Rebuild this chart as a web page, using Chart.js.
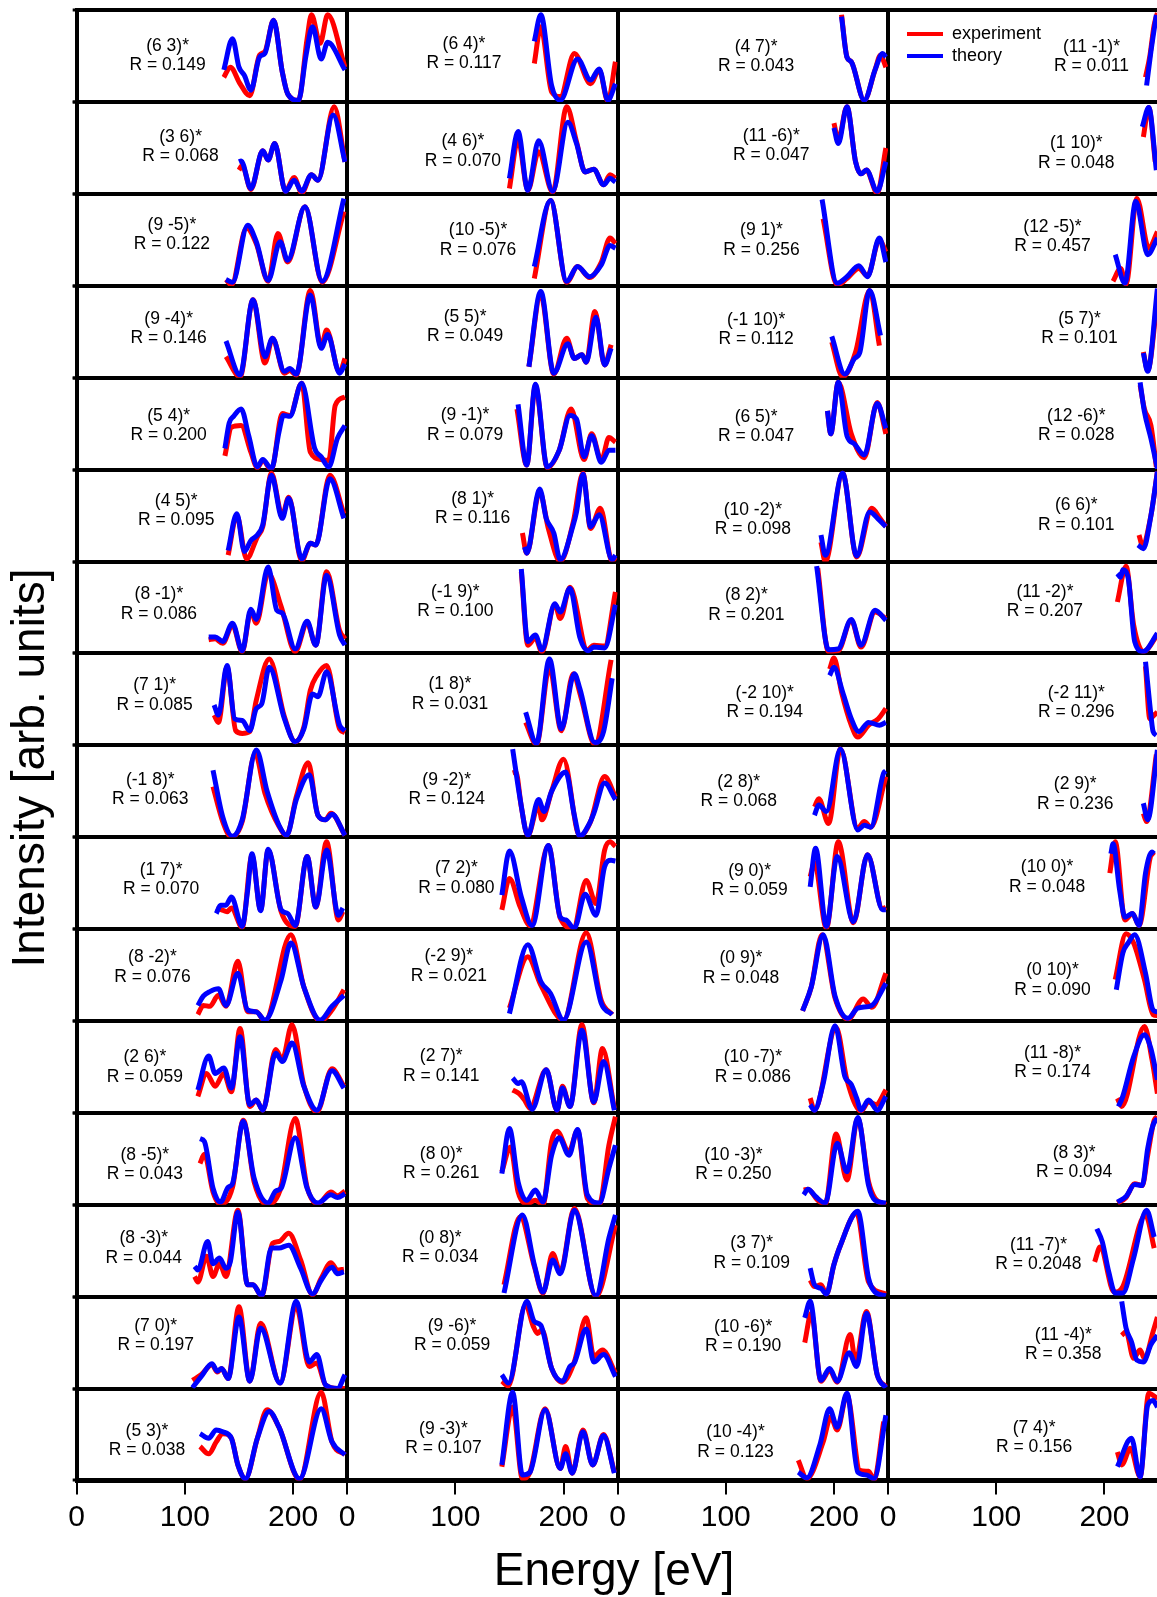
<!DOCTYPE html>
<html>
<head>
<meta charset="utf-8">
<script src="https://cdn.jsdelivr.net/npm/chart.js@4.4.1/dist/chart.umd.min.js"></script>
<style>
    html, body { margin: 0; padding: 0; background: #fff; overflow: hidden; }
    #wrap { width: 1161px; height: 1597px; }
</style>
</head>
<body>
<div id="wrap"><canvas id="chart" width="1161" height="1597"></canvas></div>
<script>
// 軸の設定
const energyTicks = [0, 100, 200];
const energyRange = [0, 250];
const nRows = 16;
const nCols = 4;

// ビーム名 (行ごと、左から右)
const beamNames = [
    '6 3', '6 4', '4 7', '11 -1',
    '3 6', '4 6', '11 -6', '1 10',
    '9 -5', '10 -5', '9 1', '12 -5',
    '9 -4', '5 5', '-1 10', '5 7',
    '5 4', '9 -1', '6 5', '12 -6',
    '4 5', '8 1', '10 -2', '6 6',
    '8 -1', '-1 9', '8 2', '11 -2',
    '7 1', '1 8', '-2 10', '-2 11',
    '-1 8', '9 -2', '2 8', '2 9',
    '1 7', '7 2', '9 0', '10 0',
    '8 -2', '-2 9', '0 9', '0 10',
    '2 6', '2 7', '10 -7', '11 -8',
    '8 -5', '8 0', '10 -3', '8 3',
    '8 -3', '0 8', '3 7', '11 -7',
    '7 0', '9 -6', '10 -6', '11 -4',
    '5 3', '9 -3', '10 -4', '7 4'
];

// Rファクター
const rFactors = [
    '0.149', '0.117', '0.043', '0.011',
    '0.068', '0.070', '0.047', '0.048',
    '0.122', '0.076', '0.256', '0.457',
    '0.146', '0.049', '0.112', '0.101',
    '0.200', '0.079', '0.047', '0.028',
    '0.095', '0.116', '0.098', '0.101',
    '0.086', '0.100', '0.201', '0.207',
    '0.085', '0.031', '0.194', '0.296',
    '0.063', '0.124', '0.068', '0.236',
    '0.070', '0.080', '0.059', '0.048',
    '0.076', '0.021', '0.048', '0.090',
    '0.059', '0.141', '0.086', '0.174',
    '0.043', '0.261', '0.250', '0.094',
    '0.044', '0.034', '0.109', '0.2048',
    '0.197', '0.059', '0.190', '0.358',
    '0.038', '0.107', '0.123', '0.156'
];

// 実験 I(V) カーブ [エネルギー eV, 強度 (パネル内 0-100)]
const expCurves = [
    [[136,27],[142,38],[151,20],[160,7],[169,51],[174,55],[182,89],[190,33],[195,9],[205,2],[213,69],[217,95],[225,64],[232,95],[248,38]],
    [[173,42],[179,82],[189,11],[197,6],[210,53],[225,20],[233,35],[241,1],[248,44]],
    [[207,95],[212,49],[216,44],[228,2],[238,35],[243,51],[248,38]],
    [[238,27],[242,50],[246,84],[249,97]],

    [[150,26],[153,31],[161,5],[172,47],[177,37],[183,55],[193,3],[201,18],[208,1],[217,21],[223,15],[238,95],[248,35]],
    [[150,6],[158,59],[167,4],[177,46],[190,2],[203,95],[212,57],[220,24],[228,27],[237,10],[243,21],[248,17]],
    [[200,77],[204,59],[212,95],[220,35],[225,22],[230,26],[240,1],[248,50]],
    [[236,62],[241,94],[247,35]],

    [[138,7],[143,1],[157,63],[166,46],[177,5],[186,57],[195,26],[211,86],[227,4],[247,81]],
    [[173,8],[188,93],[203,4],[213,21],[224,9],[235,26],[243,52],[248,46]],
    [[190,73],[203,1],[212,8],[223,19],[231,11],[242,50],[248,37]],
    [[208,5],[215,19],[220,2],[230,95],[241,41],[249,59]],

    [[138,23],[151,1],[163,85],[174,16],[181,43],[192,5],[197,8],[203,3],[216,95],[226,34],[231,52],[243,6],[248,21]],
    [[168,12],[179,90],[191,4],[203,43],[210,21],[217,25],[221,17],[229,72],[238,14],[244,36]],
    [[198,39],[208,1],[220,28],[233,95],[242,35]],
    [[236,28],[240,8],[249,86]],

    [[137,15],[143,46],[152,48],[161,19],[167,2],[172,10],[180,0],[190,61],[197,59],[208,94],[216,19],[226,11],[233,10],[239,70],[248,79]],
    [[157,66],[166,5],[174,91],[185,2],[196,21],[207,66],[219,11],[226,39],[235,10],[242,35],[248,30]],
    [[194,64],[197,39],[204,95],[216,39],[228,13],[240,73],[248,39]],
    [[233,92],[237,66],[243,48],[248,3]],

    [[140,7],[148,50],[157,3],[167,27],[172,38],[180,96],[190,50],[196,70],[208,1],[216,20],[221,18],[234,94],[247,52]],
    [[162,31],[166,9],[178,76],[186,36],[197,0],[209,43],[218,96],[225,36],[234,58],[245,0],[248,5]],
    [[188,21],[192,0],[208,96],[221,5],[235,58],[242,48],[248,38]],
    [[232,29],[235,18],[243,50],[249,98]],

    [[122,15],[128,16],[135,11],[144,31],[153,2],[161,46],[166,33],[177,87],[189,51],[202,2],[213,33],[221,9],[231,89],[243,25],[248,16]],
    [[161,89],[167,9],[174,17],[180,2],[192,53],[197,38],[206,72],[222,4],[228,9],[238,8],[248,67]],
    [[185,93],[195,2],[204,3],[216,36],[225,7],[238,45],[248,38]],
    [[212,56],[220,95],[227,31],[236,2],[249,20]],

    [[127,33],[131,25],[139,85],[147,16],[153,13],[160,15],[166,49],[178,94],[192,31],[202,4],[210,20],[216,60],[222,76],[231,87],[243,18],[248,14]],
    [[165,25],[175,1],[187,85],[198,16],[209,78],[216,53],[229,1],[244,93]],
    [[196,83],[200,95],[207,58],[216,22],[222,9],[232,22],[241,29],[248,40]],
    [[238,86],[242,29],[246,33],[249,36]],

    [[126,55],[135,17],[143,0],[153,17],[165,91],[174,48],[187,12],[194,2],[203,44],[214,81],[223,24],[230,19],[235,26],[248,2]],
    [[153,70],[156,71],[161,33],[167,2],[177,35],[180,19],[189,50],[200,85],[215,1],[225,17],[238,66],[248,44]],
    [[182,33],[186,42],[195,15],[206,96],[222,10],[228,17],[234,11],[248,66]],
    [[236,26],[239,17],[248,90]],

    [[129,23],[134,21],[139,19],[143,23],[153,2],[162,80],[170,21],[177,86],[189,19],[202,3],[213,79],[221,24],[231,95],[242,10],[246,19]],
    [[143,21],[150,55],[160,24],[169,4],[186,91],[197,12],[209,1],[221,53],[230,28],[238,86],[243,95],[248,90]],
    [[178,57],[182,72],[193,1],[204,95],[218,7],[231,81],[245,22],[248,24]],
    [[205,61],[210,95],[219,10],[226,17],[232,4],[244,82],[246,80]],

    [[112,7],[117,17],[123,16],[131,28],[138,16],[149,65],[158,10],[166,10],[174,0],[198,94],[210,37],[225,0],[236,12],[247,34]],
    [[150,14],[167,70],[179,39],[200,1],[221,96],[235,22],[245,7]],
    [[171,11],[179,37],[189,94],[201,25],[213,2],[227,24],[235,15],[248,52]],
    [[210,45],[220,95],[227,85],[237,45],[245,7],[249,6]],

    [[112,18],[120,43],[128,29],[136,43],[143,23],[151,92],[160,7],[166,14],[172,3],[184,69],[190,58],[199,96],[210,30],[222,1],[236,48],[247,29]],
    [[153,25],[159,21],[164,14],[169,5],[184,47],[194,3],[199,29],[206,7],[217,96],[228,11],[236,70],[247,5]],
    [[178,16],[182,3],[202,93],[212,36],[225,2],[232,12],[239,9],[248,25]],
    [[212,16],[216,7],[237,94],[244,58],[249,21]],

    [[114,45],[118,55],[126,14],[132,1],[144,19],[154,92],[164,25],[176,0],[188,16],[202,94],[213,19],[223,1],[235,14],[241,10],[248,15]],
    [[143,36],[151,63],[158,14],[166,1],[174,5],[181,0],[189,69],[194,80],[205,58],[213,81],[222,7],[233,0],[242,65],[248,96]],
    [[172,16],[176,17],[185,5],[192,1],[202,77],[212,27],[222,94],[232,25],[238,7],[248,0]],
    [[212,2],[220,8],[228,23],[235,21],[240,54],[246,92],[249,96]],

    [[109,22],[112,16],[120,44],[126,22],[132,36],[138,22],[149,94],[158,13],[163,13],[171,1],[181,58],[187,60],[196,69],[207,40],[218,2],[226,20],[235,37],[241,29],[247,30]],
    [[145,13],[160,87],[173,33],[181,4],[190,47],[197,27],[210,96],[230,0],[248,78]],
    [[178,18],[182,11],[188,13],[193,3],[200,35],[206,56],[221,91],[232,16],[248,3]],
    [[191,38],[196,54],[209,5],[217,11],[238,89],[246,53]],

    [[107,9],[115,15],[125,26],[130,18],[134,22],[140,11],[150,89],[160,8],[170,71],[188,6],[203,89],[215,24],[222,28],[230,4],[241,0],[248,0]],
    [[143,8],[149,3],[165,91],[172,68],[176,60],[180,64],[189,22],[199,7],[210,29],[221,77],[228,35],[236,42],[248,17]],
    [[173,50],[179,82],[188,8],[196,20],[203,7],[215,59],[220,29],[230,84],[240,15],[248,2]],
    [[216,58],[220,62],[227,33],[233,42],[237,33],[245,62],[249,78]],

    [[114,37],[122,29],[129,42],[135,51],[143,46],[149,17],[156,2],[167,46],[176,77],[187,58],[206,1],[226,96],[236,42],[248,28]],
    [[143,15],[153,80],[162,2],[169,9],[183,78],[197,13],[202,37],[208,8],[218,55],[227,17],[237,50],[247,9]],
    [[167,22],[175,2],[190,42],[197,69],[203,55],[212,93],[224,11],[232,10],[237,1],[246,64]],
    [[212,31],[216,17],[224,35],[233,4],[241,95],[249,89]]
];

// 理論 I(V) カーブ
const theoryCurves = [
    [[136,35],[144,69],[150,38],[155,29],[161,13],[169,49],[174,53],[182,89],[190,33],[195,9],[205,2],[212,51],[218,82],[226,47],[232,65],[248,35]],
    [[173,66],[179,95],[189,18],[197,2],[213,47],[225,24],[233,36],[241,2],[248,20]],
    [[207,93],[212,49],[216,44],[228,2],[238,35],[245,53],[248,49]],
    [[239,18],[243,55],[248,95]],

    [[150,35],[152,36],[161,6],[172,47],[177,37],[183,55],[193,3],[201,15],[208,3],[217,21],[223,15],[237,86],[248,35]],
    [[150,17],[158,68],[167,4],[177,58],[190,3],[204,78],[212,55],[220,24],[228,27],[237,10],[243,17],[248,13]],
    [[200,72],[204,55],[212,95],[220,35],[225,22],[230,26],[240,3],[248,35]],
    [[235,73],[241,94],[248,26]],

    [[138,7],[144,4],[158,66],[166,48],[177,6],[188,48],[195,28],[211,86],[227,5],[247,95]],
    [[173,21],[188,93],[203,5],[213,21],[224,10],[235,23],[243,44],[248,41]],
    [[189,94],[203,3],[212,10],[223,22],[231,10],[242,52],[248,26]],
    [[210,34],[219,3],[229,92],[240,34],[249,52]],

    [[138,40],[151,3],[163,85],[174,23],[181,43],[192,7],[197,10],[203,4],[216,90],[226,32],[232,47],[243,5],[248,15]],
    [[168,12],[179,94],[191,5],[204,37],[210,21],[217,25],[221,17],[230,66],[238,14],[244,32]],
    [[198,45],[210,4],[219,21],[224,28],[233,95],[243,46]],
    [[236,27],[240,7],[249,97]],

    [[137,23],[141,51],[145,58],[152,66],[159,37],[167,3],[172,11],[180,1],[187,41],[191,59],[197,58],[208,94],[220,23],[226,14],[233,3],[241,34],[248,48]],
    [[158,71],[166,5],[174,93],[185,3],[196,21],[206,59],[212,55],[219,14],[226,37],[235,8],[242,21],[248,21]],
    [[194,64],[197,39],[204,95],[212,37],[219,28],[228,16],[240,72],[248,45]],
    [[233,95],[237,63],[243,34],[249,1]],

    [[140,12],[148,52],[155,11],[161,23],[167,29],[172,40],[180,94],[190,47],[196,69],[208,3],[216,20],[221,18],[234,90],[247,47]],
    [[164,16],[166,9],[178,79],[184,47],[191,31],[197,2],[209,40],[212,54],[218,95],[225,38],[233,51],[245,2],[248,7]],
    [[188,29],[192,7],[208,96],[221,6],[233,54],[242,45],[248,38]],
    [[231,18],[236,14],[243,50],[249,98]],

    [[122,18],[128,18],[135,13],[144,33],[153,3],[161,48],[166,37],[177,94],[185,47],[190,44],[202,5],[213,35],[221,9],[231,85],[243,20],[248,9]],
    [[161,92],[167,13],[174,20],[180,4],[192,54],[197,45],[206,71],[215,18],[223,3],[228,7],[238,6],[248,53]],
    [[184,95],[195,4],[204,5],[216,37],[225,9],[238,47],[248,36]],
    [[212,87],[215,83],[217,91],[222,82],[228,13],[236,2],[249,22]],

    [[127,44],[131,33],[139,87],[146,29],[153,27],[160,16],[166,40],[171,45],[178,85],[192,29],[202,4],[210,18],[218,56],[223,53],[231,80],[243,22],[248,16]],
    [[165,36],[175,2],[187,94],[198,18],[210,78],[215,62],[229,3],[237,15],[245,73]],
    [[196,76],[200,85],[208,58],[216,29],[223,15],[232,25],[242,22],[248,25]],
    [[238,91],[242,44],[245,15],[248,11]],

    [[126,73],[135,22],[144,1],[153,19],[166,95],[176,50],[187,13],[194,2],[203,41],[215,68],[223,24],[230,19],[236,25],[248,2]],
    [[153,96],[160,41],[167,2],[177,41],[182,28],[189,50],[202,71],[210,24],[215,1],[224,15],[228,26],[238,59],[248,41]],
    [[182,24],[186,35],[193,28],[206,96],[222,8],[228,13],[234,11],[246,70],[248,72]],
    [[236,37],[240,19],[249,95]],

    [[129,17],[133,26],[138,26],[143,35],[153,3],[158,42],[162,82],[170,20],[177,87],[189,21],[195,17],[202,4],[213,79],[221,24],[231,86],[242,15],[246,23]],
    [[143,37],[150,85],[161,35],[171,4],[186,91],[197,13],[202,10],[210,1],[220,38],[230,15],[238,68],[244,75],[248,74]],
    [[178,46],[183,88],[193,3],[203,79],[218,8],[231,81],[245,21],[248,21]],
    [[206,82],[208,93],[214,43],[219,13],[226,17],[232,4],[238,61],[244,84],[246,82]],

    [[112,17],[117,27],[123,32],[131,35],[138,17],[149,52],[158,12],[166,10],[174,1],[189,45],[198,85],[210,37],[225,1],[236,16],[247,28]],
    [[150,8],[167,83],[179,43],[188,30],[200,1],[221,86],[235,19],[245,7]],
    [[171,11],[179,37],[190,94],[201,27],[213,3],[222,14],[235,17],[248,41]],
    [[211,34],[217,74],[222,85],[228,94],[238,52],[245,12],[249,10]],

    [[112,25],[122,62],[128,43],[136,49],[143,27],[151,83],[160,9],[166,14],[172,3],[184,65],[190,56],[199,76],[210,29],[222,3],[236,46],[247,27]],
    [[153,38],[158,32],[161,34],[171,4],[184,47],[194,3],[199,27],[206,7],[217,90],[228,12],[237,56],[247,3]],
    [[178,9],[182,3],[190,32],[201,95],[210,40],[216,31],[221,16],[225,3],[232,14],[240,3],[248,18]],
    [[213,7],[217,18],[227,61],[237,85],[243,70],[249,36]],

    [[114,72],[118,69],[126,18],[133,3],[140,19],[144,23],[154,91],[164,29],[177,2],[184,15],[189,18],[202,73],[213,18],[223,2],[235,11],[241,8],[248,12]],
    [[143,34],[150,83],[158,25],[166,5],[174,16],[181,3],[189,54],[196,73],[205,54],[213,82],[222,11],[233,2],[242,40],[248,65]],
    [[172,11],[176,17],[183,9],[192,2],[203,67],[212,36],[222,95],[232,21],[238,5],[248,2]],
    [[212,3],[220,9],[228,22],[235,21],[240,61],[245,87],[249,94]],

    [[109,33],[112,29],[121,60],[126,36],[132,42],[138,31],[142,38],[149,92],[158,13],[163,13],[171,1],[180,53],[187,53],[196,56],[207,31],[218,3],[226,18],[236,32],[241,25],[247,27]],
    [[145,4],[162,89],[173,35],[181,5],[190,40],[197,25],[210,94],[230,1],[242,64],[248,89]],
    [[178,31],[182,13],[188,9],[193,3],[200,35],[206,56],[222,93],[232,20],[238,5],[248,1]],
    [[193,74],[198,60],[204,27],[210,4],[217,4],[227,42],[239,94],[246,65]],

    [[107,1],[115,13],[125,27],[130,19],[134,22],[140,11],[150,78],[160,8],[170,66],[188,6],[203,95],[215,29],[222,37],[230,4],[241,0],[248,15]],
    [[143,15],[149,6],[166,95],[173,73],[179,69],[189,22],[199,8],[206,24],[210,28],[221,65],[228,29],[237,37],[248,13]],
    [[173,77],[178,95],[188,9],[196,22],[203,8],[214,39],[221,24],[230,82],[240,15],[248,1]],
    [[216,95],[220,66],[225,51],[230,31],[236,29],[243,48],[249,58]],

    [[114,51],[122,46],[129,55],[135,53],[143,46],[149,17],[156,2],[167,46],[178,75],[187,58],[206,2],[226,78],[236,42],[248,28]],
    [[143,17],[153,96],[162,6],[169,9],[183,77],[197,13],[202,29],[208,8],[218,53],[227,17],[237,49],[247,8]],
    [[167,9],[175,3],[187,39],[196,78],[203,58],[212,95],[222,9],[230,6],[237,2],[248,71]],
    [[212,15],[225,46],[233,4],[240,82],[245,87],[249,80]]
];

// ラベルの位置 [eV, パネル内の高さ]
const labelPos = [
    [84,40],[108,42],[128,39],[188,39],
    [96,41],[107,36],[142,42],[174,34],
    [88,45],[121,39],[133,39],[152,43],
    [85,43],[109,45],[128,42],[177,43],
    [85,37],[109,38],[128,36],[174,37],
    [92,45],[116,47],[125,35],[174,40],
    [76,43],[100,46],[119,42],[145,46],
    [72,44],[95,45],[136,36],[174,36],
    [68,41],[92,41],[112,39],[173,36],
    [78,43],[101,45],[122,42],[147,46],
    [70,48],[94,49],[114,47],[152,34],
    [63,39],[87,40],[125,39],[152,44],
    [63,33],[87,34],[107,33],[172,35],
    [62,42],[86,43],[124,37],[139,35],
    [73,47],[97,47],[116,46],[162,37],
    [65,33],[89,35],[109,31],[135,36]
];

const FONT = '"Liberation Sans", Arial, Helvetica, sans-serif';
const RED = '#ff0000';
const BLUE = '#0000ff';

// スケールの作成 (列ごとに x 軸、行ごとに y 軸を積み重ねる)
function buildScales() {
    const scales = {};
    for (let c = 0; c < nCols; c++) {
        scales['x' + c] = {
            type: 'linear',
            position: 'bottom',
            stack: 'energy',
            stackWeight: 1,
            weight: c,
            min: energyRange[0],
            max: energyRange[1],
            afterBuildTicks: axis => { axis.ticks = energyTicks.map(v => ({ value: v })); },
            afterFit: axis => {
                axis.height = 60;
                axis.paddingLeft = 0;
                axis.paddingRight = 0;
            },
            grid: {
                color: ctx => (ctx.tick && ctx.tick.value === 0) ? '#000' : 'rgba(0,0,0,0)',
                lineWidth: 4,
                tickColor: '#000',
                tickWidth: 2,
                tickLength: 14
            },
            border: { display: true, color: '#000', width: 4 },
            ticks: {
                autoSkip: false,
                maxRotation: 0,
                color: '#000',
                padding: 5,
                font: { family: FONT, size: 30 }
            }
        };
    }
    for (let r = 0; r < nRows; r++) {
        scales['y' + r] = {
            type: 'linear',
            position: 'left',
            stack: 'rows',
            stackWeight: 1,
            weight: nRows - r,
            min: 0,
            max: 100,
            afterBuildTicks: axis => { axis.ticks = [{ value: 0 }, { value: 100 }]; },
            afterFit: axis => { axis.width = 4; },
            grid: { color: '#000', lineWidth: 4, tickLength: 4, tickWidth: 3 },
            border: { display: true, color: '#000', width: 4 },
            ticks: { display: false }
        };
    }
    return scales;
}

// データセットの作成
function buildDatasets() {
    const datasets = [];
    beamNames.forEach((name, i) => {
        const row = Math.floor(i / nCols);
        const col = i % nCols;
        const common = {
            xAxisID: 'x' + col,
            yAxisID: 'y' + row,
            borderWidth: 5,
            pointRadius: 0,
            fill: false,
            cubicInterpolationMode: 'monotone'
        };
        datasets.push({ ...common, label: 'experiment (' + name + ')', data: expCurves[i], borderColor: RED, order: 1 });
        datasets.push({ ...common, label: 'theory (' + name + ')', data: theoryCurves[i], borderColor: BLUE, order: 0 });
    });
    return datasets;
}

// パネルのラベル・凡例・軸タイトル
const panelTextPlugin = {
    id: 'panelText',
    afterDraw(chart) {
        const ctx = chart.ctx;
        ctx.save();
        ctx.fillStyle = '#000';
        ctx.textAlign = 'center';
        ctx.textBaseline = 'middle';
        ctx.font = '17.5px ' + FONT;
        beamNames.forEach((name, i) => {
            const xs = chart.scales['x' + (i % nCols)];
            const ys = chart.scales['y' + Math.floor(i / nCols)];
            const px = xs.getPixelForValue(labelPos[i][0]);
            const py = ys.getPixelForValue(labelPos[i][1]);
            ctx.fillText('(' + name + ')*', px, py - 19.5);
            ctx.fillText('R = ' + rFactors[i], px, py);
        });

        // 凡例
        const legendItems = [['experiment', RED, 34], ['theory', BLUE, 56]];
        ctx.textAlign = 'left';
        ctx.font = '18px ' + FONT;
        legendItems.forEach(([text, color, y]) => {
            ctx.strokeStyle = color;
            ctx.lineWidth = 4;
            ctx.beginPath();
            ctx.moveTo(907, y);
            ctx.lineTo(943, y);
            ctx.stroke();
            ctx.fillText(text, 952, y);
        });

        // 軸タイトル
        ctx.font = '46px ' + FONT;
        ctx.textAlign = 'center';
        ctx.textBaseline = 'alphabetic';
        ctx.fillText('Energy [eV]', 614, 1585);
        ctx.translate(44, 768);
        ctx.rotate(-Math.PI / 2);
        ctx.fillText('Intensity [arb. units]', 0, 0);
        ctx.restore();
    }
};

document.addEventListener('DOMContentLoaded', () => {
    const ctx = document.getElementById('chart').getContext('2d');
    new Chart(ctx, {
        type: 'line',
        data: { datasets: buildDatasets() },
        options: {
            responsive: false,
            animation: false,
            events: [],
            layout: { padding: { left: 72.7, right: 2.5, top: 10.2, bottom: 56.5 } },
            scales: buildScales(),
            plugins: {
                legend: { display: false },
                tooltip: { enabled: false },
                title: { display: false }
            }
        },
        plugins: [panelTextPlugin]
    });
});
</script>
</body>
</html>
